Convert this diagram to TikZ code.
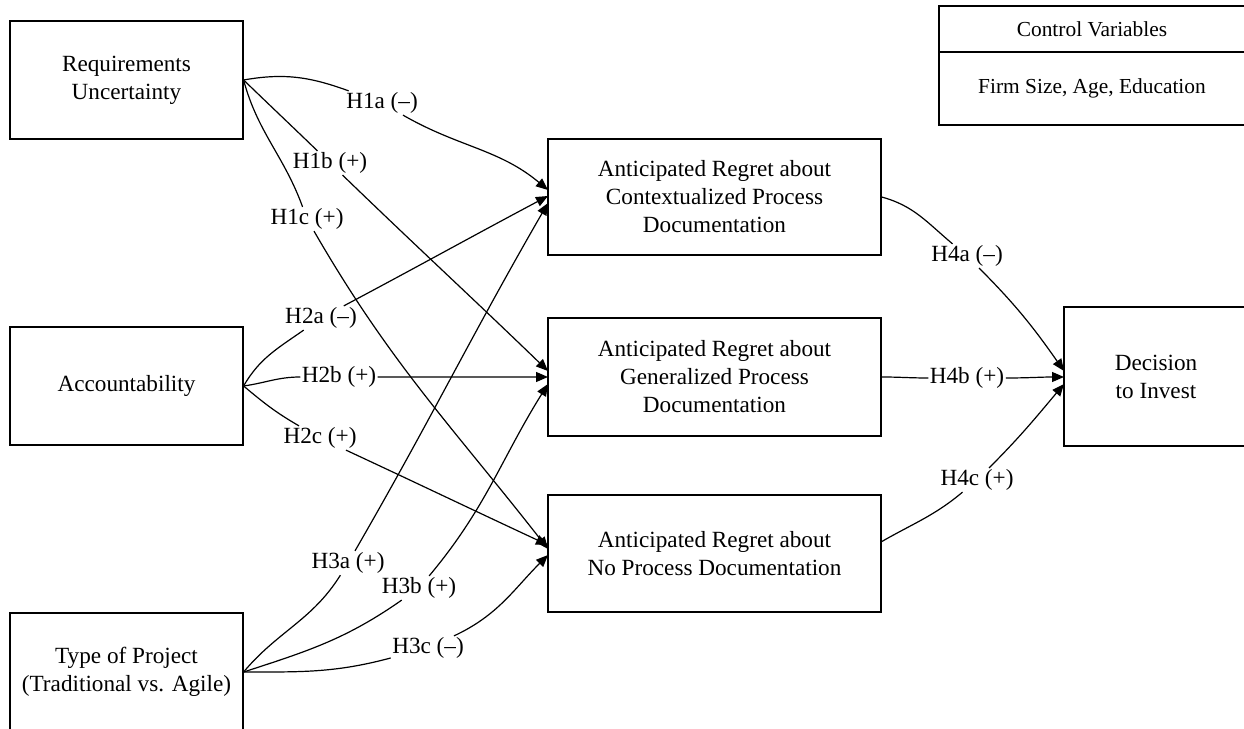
\documentclass[tikz,border=0pt]{standalone}
\usepackage{fontspec}
\setmainfont{Liberation Serif}
\usetikzlibrary{arrows.meta}
\begin{document}
\begin{tikzpicture}[x=0.5pt,y=0.5pt,
  box/.style={draw, line width=0.6pt, align=center, inner sep=0pt,
    font=\fontsize{11.6}{14}\selectfont},
  cbox/.style={draw, line width=0.6pt, align=center, inner sep=0pt,
    minimum width=153pt, font=\fontsize{10.7}{13}\selectfont},
  lbl/.style={inner sep=0.6pt, font=\fontsize{11.6}{14}\selectfont},
  edge/.style={line width=0.6pt, -{Triangle[length=6pt,width=5pt]}}]
\useasboundingbox (0,0) rectangle (1244,729);
\clip (0,0) rectangle (1244,729);
% boxes
\node[box, minimum width=116.5pt, minimum height=59pt] (ru) at (126.5,649) {Requirements\\Uncertainty};
\node[box, minimum width=116.5pt, minimum height=59pt] (acc) at (126.5,343) {Accountability};
\node[box, minimum width=116.5pt, minimum height=59pt] (tp) at (126.5,57) {Type of Project\\(Traditional vs. Agile)};
\node[box, minimum width=166.5pt, minimum height=58pt] (b1) at (714.5,532) {Anticipated Regret about\\Contextualized Process\\Documentation};
\node[box, minimum width=166.5pt, minimum height=59pt] (b2) at (714.5,352) {Anticipated Regret about\\Generalized Process\\Documentation};
\node[box, minimum width=166.5pt, minimum height=58.5pt] (b3) at (714.5,175.5) {Anticipated Regret about\\No Process Documentation};
\node[box, minimum width=92pt, minimum height=69.5pt] (dec) at (1156,352.5) {Decision\\to Invest};
\node[cbox, minimum height=23pt] (ctitle) at (1092,700) {Control Variables};
\node[cbox, minimum height=36.5pt] (cbody) at (1092,640.5) {Firm Size, Age, Education};
% labels
\node[lbl] (l1a) at (382,626) {H1a (–)};
\node[lbl] (l1b) at (330,566) {H1b (+)};
\node[lbl] (l1c) at (307,510) {H1c (+)};
\node[lbl] (l2a) at (321,411) {H2a (–)};
\node[lbl] (l2b) at (339,352) {H2b (+)};
\node[lbl] (l2c) at (320,291) {H2c (+)};
\node[lbl] (l3a) at (348,166) {H3a (+)};
\node[lbl] (l3b) at (419,141) {H3b (+)};
\node[lbl] (l3c) at (428,81) {H3c (–)};
\node[lbl] (l4a) at (967,473) {H4a (–)};
\node[lbl] (l4b) at (967,351) {H4b (+)};
\node[lbl] (l4c) at (977,249) {H4c (+)};
% arrow end points
\coordinate (t1a) at (548,539);
\coordinate (t2a) at (548,533);
\coordinate (t3a) at (548,526);
\coordinate (t1b) at (548,358);
\coordinate (t2b) at (548,352);
\coordinate (t3b) at (548,345);
\coordinate (t2c) at (548,184);
\coordinate (t1c) at (548,180);
\coordinate (t3c) at (548,174);
\coordinate (s4c) at (881,187);
\coordinate (t4a) at (1064,358);
\coordinate (t4b) at (1064,352);
\coordinate (t4c) at (1064,345);
% connectors
\draw[edge] (ru.east) to[out=10,in=160] (l1a) to[out=-30,in=140] (t1a);
\draw[edge] (ru.east) to[out=-44,in=136] (l1b) to[out=-44,in=136] (t1b);
\draw[edge] (ru.east) to[out=-75,in=110] (l1c) to[out=-60,in=128] (t1c);
\draw[edge] (acc.east) to[out=60,in=215] (l2a) to[out=28,in=208] (t2a);
\draw[edge] (acc.east) to[out=8,in=180] (l2b) to[out=0,in=180] (t2b);
\draw[edge] (acc.east) to[out=-40,in=150] (l2c) to[out=-25,in=155] (t2c);
\draw[edge] (tp.east) to[out=50,in=238] (l3a) to[out=60,in=240] (t3a);
\draw[edge] (tp.east) to[out=18,in=215] (l3b) to[out=50,in=238] (t3b);
\draw[edge] (tp.east) to[out=0,in=195] (l3c) to[out=25,in=225] (t3c);
\draw[edge] (b1.east) to[out=-15,in=140] (l4a) to[out=-45,in=125] (t4a);
\draw[edge] (b2.east) to[out=0,in=180] (l4b) to[out=0,in=180] (t4b);
\draw[edge] (s4c) to[out=30,in=220] (l4c) to[out=45,in=230] (t4c);
\end{tikzpicture}
\end{document}
